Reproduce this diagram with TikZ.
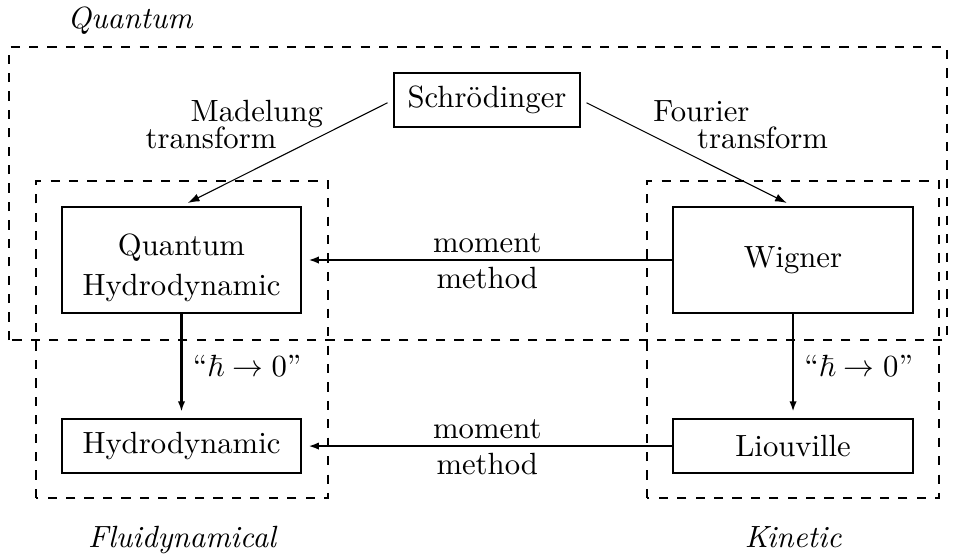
\documentclass[tikz,border=0pt]{standalone}
\usepackage{amssymb}
\usepackage{amsmath}
\usepackage{tikz}
\usetikzlibrary{arrows.meta,positioning}
\tikzset{%
	model/.style = {draw, rectangle, line width=0.7pt, minimum width=2.74cm, align=center, text centered},
	group/.style = {draw, dashed, line width=0.7pt},
	arrow/.style = {line width=0.7pt, -{Latex[length=3.4pt,width=2.4pt]}, shorten >=2pt},
	trans/.style = {line width=0.35pt, -{Latex[length=3.8pt,width=2.6pt]}, shorten >=2.3pt, shorten <=2pt},
	tag/.style   = {font=\itshape},
	note/.style  = {align=left, inner sep=0pt, anchor=base west},
}

\begin{document}
\begin{tikzpicture}
	\useasboundingbox (0,0) rectangle (10.98,6.355);
	% regions
	\draw[group] (0.103,2.462) rectangle (10.843,5.817);
	\draw[group] (0.412,0.653) rectangle (3.756,4.282);
	\draw[group] (7.408,0.653) rectangle (10.752,4.282);
	\node[tag, anchor=base] (quant) at (1.489,6.034) {Quantum};
	\node[tag, anchor=base] (fluid) at (2.084,0.092) {Fluidynamical};
	\node[tag, anchor=base] (kin) at (9.080,0.092) {Kinetic};
	
	% models
	\node[model, inner xsep=4.4pt, minimum width=0pt, minimum height=0.61cm] (schr) at (5.576,5.210) {Schr\"odinger};
	\node[model, minimum height=1.21cm] (qhd) at (2.078,3.378) {\rule{0pt}{12pt}Quantum\\[1pt] Hydrodynamic};
	\node[model, minimum height=1.21cm] (wig) at (9.080,3.378) {Wigner};
	\node[model, minimum height=0.62cm] (hyd) at (2.078,1.248) {Hydrodynamic};
	\node[model, minimum height=0.62cm] (liou) at (9.080,1.248) {Liouville};
	
	\draw[trans] (schr.west) -- (qhd.north);
	\draw[trans] (schr.east) -- (wig.north);
	\node[note] (madel) at (1.660,4.657) {\hspace*{14.7pt}Madelung\\[-3.3pt]transform};
	\node[note] (four) at (7.473,4.657) {Fourier\\[-3.3pt]\hspace*{14.3pt}transform};
	
	\draw[arrow] (wig) -- node[above, inner sep=2pt] {moment} node[below, inner sep=2pt] {method} (qhd);
	\draw[arrow] (liou) -- node[above, inner sep=2pt] {moment} node[below, inner sep=2pt] {method} (hyd);
	\draw[arrow] (qhd) -- node[right] {``$\hbar \rightarrow 0$''} (hyd);
	\draw[arrow] (wig) -- node[right] {``$\hbar \rightarrow 0$''} (liou);
\end{tikzpicture}
\end{document}
